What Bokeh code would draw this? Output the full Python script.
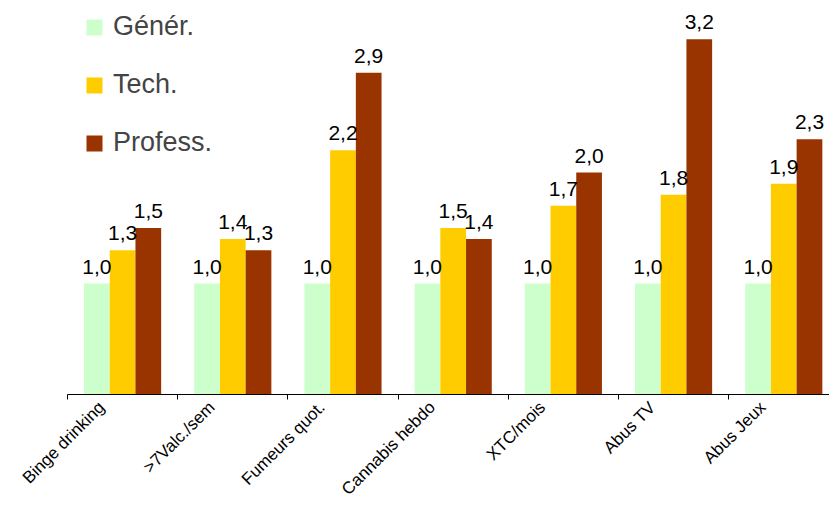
import math
from bokeh.plotting import figure
from bokeh.models import ColumnDataSource, Range1d, FixedTicker, LabelSet, Legend, LegendItem
from bokeh.core.properties import value
from bokeh.embed import file_html
from bokeh.resources import INLINE

categories = ["Binge drinking", ">7Valc./sem", "Fumeurs quot.", "Cannabis hebdo",
              "XTC/mois", "Abus TV", "Abus Jeux"]
series_names = ["Génér.", "Tech.", "Profess."]
gener = [1.0, 1.0, 1.0, 1.0, 1.0, 1.0, 1.0]
tech = [1.3, 1.4, 2.2, 1.5, 1.7, 1.8, 1.9]
profess = [1.5, 1.3, 2.9, 1.4, 2.0, 3.2, 2.3]
colors = ["#CCFFCC", "#FFCC00", "#993300"]

FONT = "Liberation Sans"
bar_w = 0.7 / 3

p = figure(width=829, height=508, output_backend="svg", toolbar_location=None,
           x_range=Range1d(0, 6.915), y_range=Range1d(0, 3.55),
           min_border_left=67, min_border_right=0, min_border_top=0, min_border_bottom=114)
p.outline_line_color = None
p.xgrid.visible = False
p.ygrid.visible = False
p.yaxis.visible = False

renderers = []
for k, (name, vals, col) in enumerate(zip(series_names, [gener, tech, profess], colors)):
    xs = [i + 0.5 + (k - 1) * bar_w for i in range(len(categories))]
    labels = [f"{v:.1f}".replace(".", ",") for v in vals]
    src = ColumnDataSource(dict(x=xs, top=vals, lab=labels))
    r = p.vbar(x="x", top="top", width=bar_w, bottom=0, source=src,
               fill_color=col, line_color=None)
    renderers.append(r)
    ls = LabelSet(x="x", y="top", text="lab", source=src, y_offset=10,
                  text_align="center", text_baseline="alphabetic",
                  text_font=value(FONT), text_font_size="21px", text_color="black")
    p.add_layout(ls)

legend = Legend(items=[LegendItem(label=n, renderers=[r]) for n, r in zip(series_names, renderers)],
                location=(17, 236), orientation="vertical")
legend.glyph_width = 20
legend.glyph_height = 20
legend.label_text_font = FONT
legend.label_text_font_size = "27px"
legend.label_standoff = 9
legend.spacing = 27
legend.padding = 0
legend.margin = 0
legend.border_line_color = None
legend.background_fill_alpha = 0
p.add_layout(legend)

centers = [i + 0.5 - 0.19 for i in range(len(categories))]
bounds = [float(i) for i in range(len(categories) + 1)]
ax = p.xaxis[0]
ax.ticker = FixedTicker(ticks=centers, minor_ticks=bounds)
ax.major_label_overrides = {c: n for c, n in zip(centers, categories)}
ax.major_label_orientation = math.pi / 4
ax.major_tick_line_color = None
ax.major_tick_in = 0
ax.major_tick_out = 0
ax.minor_tick_line_color = "black"
ax.minor_tick_in = 0
ax.minor_tick_out = 5
ax.axis_line_color = "black"
ax.axis_line_width = 1
ax.major_label_text_font = FONT
ax.major_label_text_font_size = "17px"
ax.major_label_text_color = "black"
ax.major_label_standoff = 5

open("out.html", "w").write(file_html(p, INLINE))
